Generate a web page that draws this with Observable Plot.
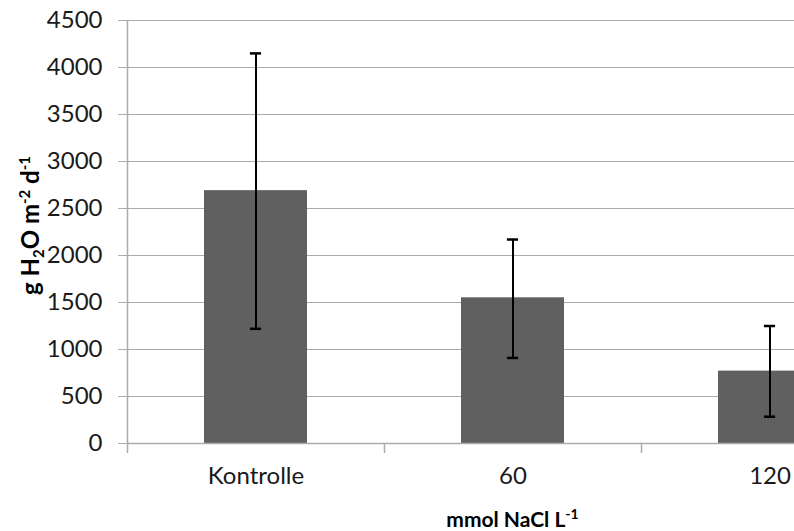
<!DOCTYPE html>
<html><head><meta charset="utf-8">
<script src="https://cdn.jsdelivr.net/npm/d3@7"></script>
<script src="https://cdn.jsdelivr.net/npm/@observablehq/plot@0.6"></script>
<style>html,body{margin:0;padding:0;overflow:hidden;background:#fff}</style>
</head><body><div id="chart"></div>
<script>
const categories = ["Kontrolle", "60", "120"];
const means = [2690, 1550, 770];
const lower = [1220, 910, 285];
const upper = [4150, 2170, 1250];
const yTicks = [0, 500, 1000, 1500, 2000, 2500, 3000, 3500, 4000, 4500];

const data = categories.map((c, i) => ({cat: c, mean: means[i], lo: lower[i], hi: upper[i]}));

const W = 794, H = 531;
const mLeft = 127, mTop = 20, mBottom = 88;
const xRange = [127, 898];
const step = (xRange[1] - xRange[0]) / categories.length;
const bandW = step * 0.4;
const capW = 11;
const grid = "#ababab";
const font = "Lato, 'Open Sans', sans-serif";

const plot = Plot.plot({
  width: W, height: H,
  marginLeft: mLeft, marginRight: 0, marginTop: mTop, marginBottom: mBottom,
  style: {fontFamily: font, fontSize: "24px", background: "#fff", overflow: "hidden"},
  x: {domain: categories, range: xRange, paddingInner: 0.6, paddingOuter: 0.3, label: null},
  y: {domain: [0, 4500], label: null},
  marks: [
    Plot.ruleY(yTicks.filter(d => d > 0), {stroke: grid, strokeWidth: 1}),
    Plot.axisY({ticks: yTicks, tickFormat: d3.format("d"), tickSize: 9, tickPadding: 16, stroke: grid, fill: "#1a1a1a", label: null, fontSize: 24}),
    Plot.barY(data, {x: "cat", y: "mean", fill: "#606060"}),
    Plot.ruleY([0], {stroke: grid, strokeWidth: 1.5}),
    Plot.ruleX([categories[0]], {x: d => d, dx: -step / 2, y1: 0, y2: 4500, stroke: grid, strokeWidth: 1.5}),
    Plot.axisX({ticks: categories, tickSize: 10, tickFormat: () => "", dx: -step / 2, stroke: grid, strokeWidth: 1.5, label: null}),
    Plot.axisX({ticks: categories, tickSize: 0, tickPadding: 23, fill: "#1a1a1a", label: null, fontSize: 24}),
    Plot.ruleX(data, {x: "cat", y1: "lo", y2: "hi", stroke: "#000", strokeWidth: 2}),
    Plot.tickY(data, {x: "cat", y: "hi", stroke: "#000", strokeWidth: 2.5, insetLeft: (bandW - capW) / 2, insetRight: (bandW - capW) / 2}),
    Plot.tickY(data, {x: "cat", y: "lo", stroke: "#000", strokeWidth: 2.5, insetLeft: (bandW - capW) / 2, insetRight: (bandW - capW) / 2})
  ]
});
document.getElementById("chart").appendChild(plot);

const svg = d3.select(plot);
const cx = (xRange[0] + xRange[1]) / 2;

// x-axis title: mmol NaCl L^-1
const xt = svg.append("text")
  .attr("x", cx).attr("y", 527)
  .attr("text-anchor", "middle")
  .attr("font-family", font).attr("font-weight", "bold").attr("font-size", 21).attr("fill", "#000");
xt.append("tspan").text("mmol NaCl L");
xt.append("tspan").attr("dy", -8).attr("font-size", 14).text("-1");

// y-axis title: g H2O m^-2 d^-1
const cy = (mTop + (H - mBottom)) / 2 - 6;
const yt = svg.append("text")
  .attr("transform", `translate(39,${cy}) rotate(-90)`)
  .attr("text-anchor", "middle")
  .attr("font-family", font).attr("font-weight", "bold").attr("font-size", 24).attr("fill", "#000");
yt.append("tspan").text("g H");
yt.append("tspan").attr("dy", 5).attr("font-size", 15).text("2");
yt.append("tspan").attr("dy", -5).text("O m");
yt.append("tspan").attr("dy", -9).attr("font-size", 15).text("-2");
yt.append("tspan").attr("dy", 9).text(" d");
yt.append("tspan").attr("dy", -9).attr("font-size", 15).text("-1");
</script></body></html>
